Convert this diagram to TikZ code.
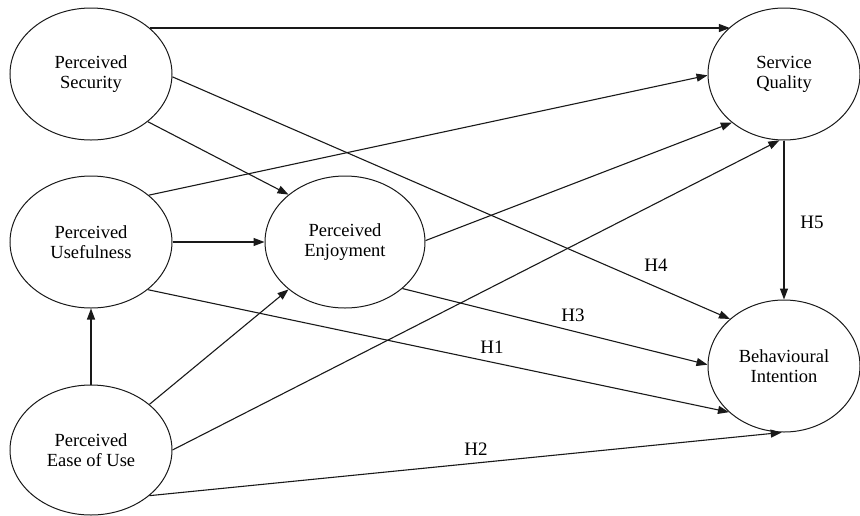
\documentclass[tikz,border=0pt]{standalone}
\usepackage{fontspec}
\setmainfont{Liberation Serif}
\usetikzlibrary{arrows.meta,shapes.geometric}
\begin{document}
\begin{tikzpicture}[x=1pt,y=-1pt,
  construct/.style={draw=black!90,line width=1pt,ellipse,inner sep=0pt,align=center,
    font=\fontsize{18.5}{20}\selectfont},
  link/.style={draw=black!90,line width=1.1pt,-{Triangle[length=11pt,width=8pt]}},
  hyp/.style={font=\fontsize{19}{20}\selectfont,inner sep=0pt}]
\useasboundingbox (0,0) rectangle (860,515);
\node[construct,minimum width=162pt,minimum height=132pt] (ps) at (91,74) {Perceived\\Security};
\node[construct,minimum width=162pt,minimum height=132pt] (pu) at (91,242) {Perceived\\Usefulness};
\node[construct,minimum width=162pt,minimum height=130pt] (peu) at (91,450) {Perceived\\Ease of Use};
\node[construct,minimum width=160pt,minimum height=132pt] (pe) at (345,242) {Perceived\\Enjoyment};
\node[construct,minimum width=152pt,minimum height=132pt] (sq) at (784,74) {Service\\Quality};
\node[construct,minimum width=152pt,minimum height=132pt] (bi) at (784,366) {Behavioural\\Intention};
% connectors
\draw[link] (ps.38) -- (ps.38 -| sq.139);
\draw[link] (ps.-2) -- (bi.139);
\draw[link] (ps.-40) -- (pe.140);
\draw[link] (pu.39) -- (sq.181);
\draw[link] (pu.east) -- (pe.west);
\draw[link] (pu.-40) -- (bi.-140);
\draw[link] (pe.1.5) -- (sq.-137);
\draw[link] (pe.-39) -- (bi.179);
\draw[link] (peu.north) -- (pu.south);
\draw[link] (peu.38.5) -- (pe.-140);
\draw[link] (peu.0) -- (sq.-94);
\draw[link] (peu.-38.5) -- (bi.-92);
\draw[link] (sq.south) -- (bi.north);
% labels
\node[hyp] (h5) at (812,222) {H5};
\node[hyp] (h4) at (656,265) {H4};
\node[hyp] (h3) at (573,315) {H3};
\node[hyp] (h1) at (492,347) {H1};
\node[hyp] (h2) at (476,449) {H2};
\end{tikzpicture}
\end{document}
